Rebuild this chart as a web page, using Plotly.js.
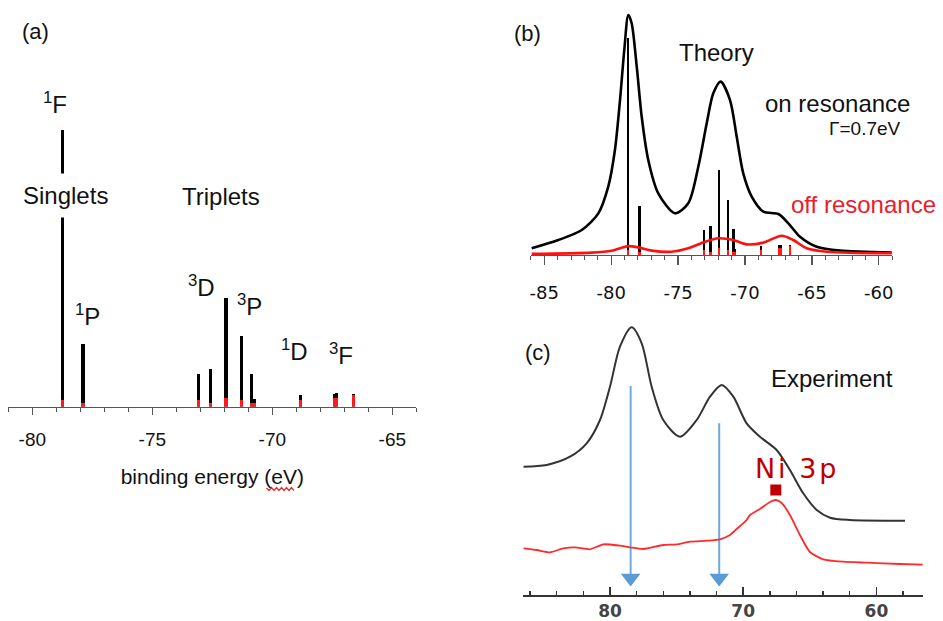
<!DOCTYPE html>
<html><head><meta charset="utf-8">
<script src="https://cdn.plot.ly/plotly-3.0.1.min.js"></script>
<style>html,body{margin:0;padding:0;background:#fff}#chart{width:943px;height:621px}</style>
</head><body><div id="chart"></div>
<script>
// ---------- data ----------
// multiplet sticks, binding energy (eV) and relative intensity
const stickEnergy = [-78.75, -77.89, -73.08, -72.58, -71.93, -71.29, -70.86, -70.75, -68.81, -67.42, -67.33, -66.62];
const stickOnRes  = [100, 22.7, 11.6, 13.4, 39.0, 25.5, 11.9, 2.8, 4.2, 4.6, 4.8, 4.4];
const stickOffRes = [2.5, 1.4, 2.2, 1.2, 3.0, 2.2, 1.4, 1.4, 2.2, 3.0, 3.0, 4.2];

// (b) theory, broadened spectra
const theoryOnE = [-85.94,-83.95,-82.20,-80.96,-80.22,-79.72,-79.34,-79.02,-78.72,-78.47,-78.09,-77.72,-77.23,-76.48,-75.23,-74.24,-73.49,-72.86,-72.37,-71.82,-71.12,-70.62,-70.13,-69.50,-68.63,-67.51,-66.76,-65.89,-64.64,-62.90,-59.04];
const theoryOn  = [3.1,6.9,11.5,19.2,31.5,48.4,71.4,94.5,110.6,106.8,86.8,63.7,43.8,28.4,19.2,23.8,40.7,60.7,74.5,79.9,71.4,54.5,37.6,26.9,20.0,18.9,14.6,8.4,3.8,2.0,1.1];
const theoryOffE = [-85.94,-81.46,-79.96,-78.72,-77.97,-76.97,-75.48,-74.24,-72.99,-72.0,-70.87,-69.87,-68.63,-67.26,-66.39,-65.39,-63.89,-59.04];
const theoryOff  = [0.5,1.1,2.0,4.1,3.5,2.0,1.5,3.1,6.1,7.7,6.9,4.9,5.7,8.9,6.9,3.1,1.5,0.8];

// (c) experiment
const exptOnE = [86.51,84.75,83.0,81.75,80.75,80.0,79.25,78.37,77.62,76.87,76.0,74.74,73.49,72.49,71.61,70.74,69.74,68.74,67.49,66.49,65.49,64.48,63.48,61.98,57.85];
const exptOn  = [128.3,130,138.3,151.7,175,208.3,248.3,267.7,251.7,208.3,175,158.3,175,198.3,210,198.3,171.7,158.3,145,125,101.7,85,77.3,75,74.3];
const exptOffE = [86.51,85.50,84.50,83.51,82.63,81.50,80.50,79.25,78.50,77.50,76.0,74.99,73.99,72.74,71.74,70.99,70.49,69.74,69.49,68.74,67.99,67.54,67.11,66.49,65.74,64.99,63.99,62.48,60.73,58.23,56.52];
const exptOff  = [46.7,45,42.7,46.7,47.7,45.7,50.7,49.3,47.7,46,50,50.7,53.3,54.3,55.7,60,66,75,80,86,93,95,92,80,60,43,35.7,33.3,32.3,31,30.3];

// (c) arrows (energy, top, tip) and Ni 3p marker
const arrowE   = [78.45, 71.8];
const arrowTop = [209, 171.7];
const arrowTip = [17, 17];
const ni3pE = [67.55];
const ni3pY = [105];

// tick labels
const tickValsA = [-80, -75, -70, -65];
const tickTextA = ['-80', '-75', '-70', '-65'];
const tickValsB = [-85, -80, -75, -70, -65, -60];
const tickTextB = ['-85', '-80', '-75', '-70', '-65', '-60'];
const tickValsC = [80, 70, 60];
const tickTextC = ['80', '70', '60'];

// ---------- helpers ----------
const W = 943, H = 621;
const px = x => x / W, py = y => 1 - y / H;
const SANS = 'Liberation Sans, Arial, sans-serif';
const DEJA = 'DejaVu Sans, Verdana, sans-serif';

// arrows built from arrays
const arrowLx = [], arrowLy = [];
arrowE.forEach((e, i) => { arrowLx.push(e, e, null); arrowLy.push(arrowTop[i], arrowTip[i], null); });

const traces = [
  // (a)
  {type: 'bar', x: stickEnergy, y: stickOnRes, xaxis: 'x', yaxis: 'y', width: 0.13, marker: {color: '#000', line: {width: 0}}, hoverinfo: 'skip'},
  {type: 'bar', x: stickEnergy, y: stickOffRes, xaxis: 'x', yaxis: 'y', width: 0.13, marker: {color: '#ff1a1a', line: {width: 0}}, hoverinfo: 'skip'},
  // (b)
  {type: 'bar', x: stickEnergy, y: stickOnRes, xaxis: 'x2', yaxis: 'y2', width: 0.17, marker: {color: '#000', line: {width: 0}}, hoverinfo: 'skip'},
  {type: 'bar', x: stickEnergy, y: stickOffRes, xaxis: 'x2', yaxis: 'y2', width: 0.17, marker: {color: '#ff1a1a', line: {width: 0}}, hoverinfo: 'skip'},
  {type: 'scatter', mode: 'lines', x: theoryOnE, y: theoryOn, xaxis: 'x2', yaxis: 'y2', line: {color: '#000', width: 2.6, shape: 'spline', smoothing: 0.8}},
  {type: 'scatter', mode: 'lines', x: theoryOffE, y: theoryOff, xaxis: 'x2', yaxis: 'y2', line: {color: '#ff1010', width: 2.6, shape: 'spline', smoothing: 0.8}},
  // (c)
  {type: 'scatter', mode: 'lines', x: exptOnE, y: exptOn, xaxis: 'x3', yaxis: 'y3', line: {color: '#333', width: 2, shape: 'spline', smoothing: 0.8}},
  {type: 'scatter', mode: 'lines', x: arrowLx, y: arrowLy, xaxis: 'x3', yaxis: 'y3', line: {color: '#6fa8dc', width: 2}},
  {type: 'scatter', mode: 'lines', x: exptOffE, y: exptOff, xaxis: 'x3', yaxis: 'y3', line: {color: '#ff2a2a', width: 1.8, shape: 'spline', smoothing: 0.6}},
  {type: 'scatter', mode: 'markers', x: arrowE, y: arrowTip, xaxis: 'x3', yaxis: 'y3', marker: {symbol: 'triangle-down', size: 17, color: '#5b9bd5', line: {width: 0}}},
  {type: 'scatter', mode: 'markers', x: ni3pE, y: ni3pY, xaxis: 'x3', yaxis: 'y3', marker: {symbol: 'square', size: 11, color: '#c00000', line: {width: 0}}}
];

function ann(text, x, y, size, extra) {
  return Object.assign({text: text, xref: 'paper', yref: 'paper', x: px(x), y: py(y), xanchor: 'center', yanchor: 'middle',
    showarrow: false, font: {family: SANS, size: size, color: '#111'}}, extra || {});
}
const RED = '#e8202a';
const annotations = [
  ann('(a)', 35, 31, 22),
  ann('<sup>1</sup>F', 54.5, 102.8, 24),
  ann('Singlets', 65.8, 195, 24, {bgcolor: '#fff', borderpad: 8}),
  ann('Triplets', 221, 196, 24),
  ann('<sup>3</sup>D', 201.3, 286.1, 24),
  ann('<sup>3</sup>P', 249.7, 304.8, 24),
  ann('<sup>1</sup>P', 87, 315.1, 24),
  ann('<sup>1</sup>D', 294, 350.1, 24),
  ann('<sup>3</sup>F', 340.5, 353.9, 24),
  ann('(b)', 527, 33, 22),
  ann('Theory', 716.5, 52.5, 24),
  ann('on resonance', 837.5, 103.1, 24),
  ann('\u0393=0.7eV', 865, 128.6, 19),
  ann('off resonance', 863, 204.7, 24, {font: {family: SANS, size: 24, color: RED}}),
  ann('(c)', 537.5, 352.5, 22),
  ann('Experiment', 831.5, 378.7, 24),
  ann('N\u200Ai\u2009 3\u200Ap', 795, 468.3, 27, {font: {family: DEJA, size: 27, color: '#c00000'}})
];

// red wavy underline under "eV"
let sq = 'M' + px(266.5) + ',' + py(488);
for (let i = 1; i <= 11; i++) { sq += ' L' + px(266.5 + i * 2.5) + ',' + py(i % 2 ? 490.5 : 487.5); }

const layout = {
  width: W, height: H, margin: {l: 0, r: 0, t: 0, b: 0},
  paper_bgcolor: '#fff', plot_bgcolor: 'rgba(0,0,0,0)',
  showlegend: false, barmode: 'overlay', bargap: 0,
  font: {family: SANS, color: '#111'},
  xaxis: {domain: [px(8.3), px(416.3)], range: [-81, -64], anchor: 'y', fixedrange: true,
    showgrid: false, zeroline: false, showline: true, linecolor: '#555', linewidth: 1.3,
    ticks: 'outside', ticklen: 7, tickwidth: 1.2, tickcolor: '#555',
    tickmode: 'array', tickvals: tickValsA, ticktext: tickTextA, ticklabelstandoff: 8,
    tickfont: {family: SANS, size: 19, color: '#111'},
    minor: {dtick: 1, tick0: -80, ticks: 'outside', ticklen: 4, tickwidth: 1, tickcolor: '#555', showgrid: false},
    title: {text: 'binding energy (eV)', font: {family: SANS, size: 21, color: '#111'}, standoff: 20}},
  yaxis: {domain: [py(406.5), py(100)], range: [0, 110.65], visible: false, fixedrange: true},
  xaxis2: {domain: [px(530.9), px(892.2)], range: [-86, -59], anchor: 'y2', fixedrange: true,
    showgrid: false, zeroline: false, showline: true, linecolor: '#555', linewidth: 1.3,
    ticks: 'outside', ticklen: 9, tickwidth: 1.2, tickcolor: '#555',
    tickmode: 'array', tickvals: tickValsB, ticktext: tickTextB, ticklabelstandoff: 12,
    tickfont: {family: DEJA, size: 18, color: '#111'},
    minor: {dtick: 1, tick0: -85, ticks: 'outside', ticklen: 4, tickwidth: 1, tickcolor: '#555', showgrid: false}},
  yaxis2: {domain: [py(255), py(5)], range: [0, 115.2], visible: false, fixedrange: true},
  xaxis3: {domain: [px(523.4), px(923)], range: [86.5, 56.5], anchor: 'y3', fixedrange: true,
    showgrid: false, zeroline: false, showline: true, linecolor: '#333', linewidth: 2,
    ticks: 'inside', ticklen: 8, tickwidth: 1.6, tickcolor: '#333',
    tickmode: 'array', tickvals: tickValsC, ticktext: tickTextC, ticklabelstandoff: 0,
    tickfont: {family: DEJA, size: 17, color: '#444', weight: 'bold'},
    minor: {dtick: 2, tick0: 80, ticks: 'inside', ticklen: 4, tickwidth: 1.4, tickcolor: '#333', showgrid: false}},
  yaxis3: {domain: [py(595), py(320)], range: [0, 275], visible: false, fixedrange: true},
  annotations: annotations,
  shapes: [{type: 'path', xref: 'paper', yref: 'paper', path: sq, line: {color: '#e03030', width: 1.2}}]
};

Plotly.newPlot('chart', traces, layout, {staticPlot: true, displayModeBar: false});
</script>
</body></html>
